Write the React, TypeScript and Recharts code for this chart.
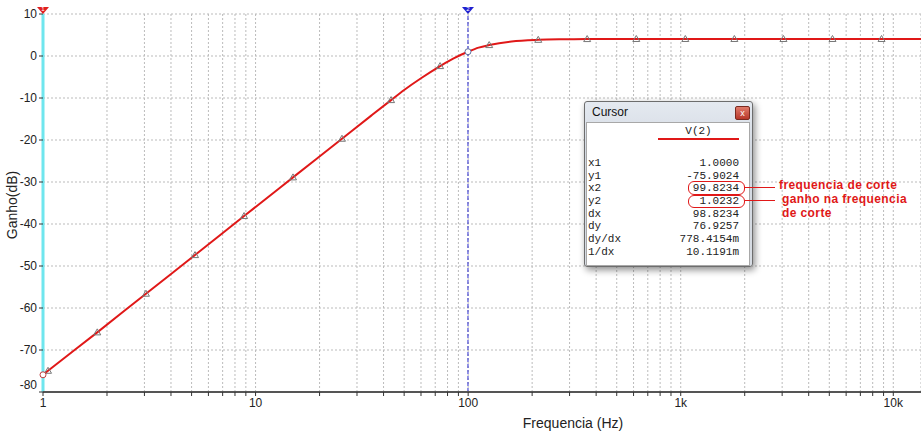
import React from "react";
import {
  ComposedChart,
  Line,
  Scatter,
  XAxis,
  YAxis,
  CartesianGrid,
  ReferenceLine,
  ReferenceDot,
} from "recharts";

// frequency response (Hz, dB)
const curveFreq = [1, 1.056, 1.8, 3.05, 5.19, 8.83, 15, 25.5, 35, 43.4, 50, 60, 73.8, 85, 99.8, 112, 125.6, 160, 213.7, 280, 363, 618, 1051, 13500];
const curveGain = [-75.9, -74.95, -65.8, -56.6, -47.4, -38.1, -28.9, -19.7, -14.2, -10.5, -8.1, -5.3, -2.4, -0.6, 1.02, 2.0, 2.6, 3.45, 3.85, 3.98, 4.03, 4.05, 4.05, 4.05];

// triangle markers along the trace
const markerFreq = [1.056, 1.8, 3.05, 5.19, 8.83, 15, 25.5, 43.4, 73.8, 125.6, 213.7, 363, 618, 1051, 1788, 3042, 5175, 8805];
const markerGain = [-74.95, -65.8, -56.6, -47.4, -38.1, -28.9, -19.7, -10.5, -2.4, 2.6, 3.85, 4.03, 4.05, 4.05, 4.05, 4.05, 4.05, 4.05];

const yTicks = [10, 0, -10, -20, -30, -40, -50, -60, -70, -80];
const decades = [1, 10, 100, 1000, 10000];
const decadeLabels = ["1", "10", "100", "1k", "10k"];
const xTicks = [1, 2, 3, 4, 5, 6, 7, 8, 9, 10, 20, 30, 40, 50, 60, 70, 80, 90, 100, 200, 300, 400, 500, 600, 700, 800, 900, 1000, 2000, 3000, 4000, 5000, 6000, 7000, 8000, 9000, 10000];

const cursor1 = { f: 1.0, g: -75.9024 };
const cursor2 = { f: 99.8234, g: 1.0232 };

const cursorRows = [
  ["x1", "1.0000"],
  ["y1", "-75.9024"],
  ["x2", "99.8234"],
  ["y2", "1.0232"],
  ["dx", "98.8234"],
  ["dy", "76.9257"],
  ["dy/dx", "778.4154m"],
  ["1/dx", "10.1191m"],
];

const curveData = curveFreq.map((f, i) => ({ f, g: curveGain[i] }));
const markerData = markerFreq.map((f, i) => ({ f, g: markerGain[i] }));

const FONT = "'Liberation Sans', Arial, sans-serif";
const RED = "#e01818";

function Triangle(props: any) {
  const { cx, cy } = props;
  return (
    <path
      d={`M${cx},${cy - 3.5} L${cx + 3.5},${cy + 2.5} L${cx - 3.5},${cy + 2.5} Z`}
      fill="none"
      stroke="#777"
      strokeWidth={1}
    />
  );
}

function CursorFlag(color: string, num: string) {
  return (props: any) => {
    const { cx, cy } = props;
    return (
      <g>
        <path d={`M${cx - 6},${cy - 7} L${cx + 6},${cy - 7} L${cx},${cy} Z`} fill={color} />
        <text x={cx} y={cy - 3} textAnchor="middle" fontSize={6} fill="#fff" fontFamily={FONT}>
          {num}
        </text>
      </g>
    );
  };
}

function YTick(props: any) {
  const { x, y, payload } = props;
  const shift = payload.value === -80 ? -7 : 0;
  return (
    <text x={x} y={y + shift} dy="0.35em" textAnchor="end" fontSize={12} fill="#222" fontFamily={FONT}>
      {payload.value}
    </text>
  );
}

function xLabel(v: number) {
  const i = decades.indexOf(v);
  return i >= 0 ? decadeLabels[i] : "";
}

function CursorWindow() {
  return (
    <div
      style={{
        position: "absolute",
        left: 584,
        top: 101,
        width: 167,
        height: 164,
        border: "1px solid #6d6d6d",
        background: "linear-gradient(#e4e9f0, #d3d9e2 30%, #d7dce3)",
        boxShadow: "2px 3px 7px rgba(0,0,0,0.45)",
        borderRadius: 3,
        fontFamily: FONT,
      }}
    >
      <div style={{ position: "absolute", left: 7, top: 3, fontSize: 12, color: "#111" }}>Cursor</div>
      <div
        style={{
          position: "absolute",
          left: 150,
          top: 4,
          width: 13,
          height: 12,
          background: "linear-gradient(#e07a6a, #b8382a)",
          border: "1px solid #7a2a20",
          borderRadius: 2,
          color: "#fff",
          fontSize: 9,
          lineHeight: "12px",
          textAlign: "center",
        }}
      >
        x
      </div>
      <div
        style={{
          position: "absolute",
          left: 1,
          top: 20,
          width: 162,
          height: 142,
          background: "#fff",
          border: "1px solid #a8a8a8",
          fontFamily: "'Liberation Mono', 'Courier New', monospace",
          fontSize: 11,
          color: "#222",
        }}
      >
        <div style={{ position: "absolute", left: 71, width: 81, top: 2, textAlign: "center" }}>V(2)</div>
        <div style={{ position: "absolute", left: 71, width: 81, top: 15, height: 2, background: RED }} />
        {cursorRows.map(([k, v], i) => (
          <div
            key={k}
            style={{
              position: "absolute",
              left: 1,
              right: 10,
              top: 34 + i * 12.67,
              height: 13,
              lineHeight: "13px",
              display: "flex",
              justifyContent: "space-between",
            }}
          >
            <span>{k}</span>
            <span>{v}</span>
          </div>
        ))}
      </div>
    </div>
  );
}

function Annotations() {
  const box = (top: number, height: number) => ({
    position: "absolute" as const,
    left: 688,
    top,
    width: 55,
    height,
    border: `1px solid ${RED}`,
    borderRadius: 6,
  });
  const rule = (top: number) => ({
    position: "absolute" as const,
    left: 745,
    top,
    width: 30,
    height: 1,
    background: RED,
  });
  const label = (left: number, top: number) => ({
    position: "absolute" as const,
    left,
    top,
    fontFamily: FONT,
    fontSize: 12,
    lineHeight: "12px",
    letterSpacing: 0.4,
    fontWeight: "bold" as const,
    color: RED,
    whiteSpace: "nowrap" as const,
  });
  return (
    <>
      <div style={box(181, 12)} />
      <div style={box(195, 11)} />
      <div style={rule(187)} />
      <div style={rule(200)} />
      <div style={label(779, 179)}>frequencia de corte</div>
      <div style={label(782, 193)}>ganho na frequencia</div>
      <div style={label(782, 207)}>de corte</div>
    </>
  );
}

export default function App() {
  return (
    <div style={{ position: "absolute", left: 0, top: 0, width: 921, height: 436, background: "#fff" }}>
      <ComposedChart width={921} height={436} margin={{ top: 14, right: 0, bottom: 0, left: 0 }}>
        <CartesianGrid stroke="#bbbbbb" strokeDasharray="2 2" />
        <XAxis
          dataKey="f"
          type="number"
          scale="log"
          domain={[1, 13500]}
          allowDataOverflow
          ticks={xTicks}
          tickFormatter={xLabel}
          interval={0}
          height={44}
          tickSize={4}
          tickMargin={2}
          axisLine={{ stroke: "#555", strokeWidth: 2 }}
          tickLine={{ stroke: "#333" }}
          tick={{ fontSize: 12, fill: "#222", fontFamily: FONT }}
          label={{
            content: () => (
              <text x={573} y={428} textAnchor="middle" fontSize={14} fill="#222" fontFamily={FONT}>
                Frequencia (Hz)
              </text>
            ),
          }}
        />
        <YAxis
          dataKey="g"
          type="number"
          domain={[-80, 10]}
          ticks={yTicks}
          interval={0}
          width={43}
          tickSize={4}
          tickMargin={2}
          axisLine={false}
          tickLine={{ stroke: "#333" }}
          tick={<YTick />}
          label={{
            content: () => (
              <text
                x={17}
                y={205}
                transform="rotate(-90 17 205)"
                textAnchor="middle"
                fontSize={14}
                fill="#222"
                fontFamily={FONT}
              >
                Ganho(dB)
              </text>
            ),
          }}
        />
        <ReferenceLine x={cursor1.f} stroke="#6fe6ee" strokeWidth={3} ifOverflow="visible" />
        <ReferenceLine x={cursor2.f} stroke="#2a2ad0" strokeWidth={1} strokeDasharray="4 2" />
        <Line
          data={curveData}
          dataKey="g"
          type="monotone"
          stroke={RED}
          strokeWidth={2}
          dot={false}
          isAnimationActive={false}
        />
        <Scatter data={markerData} dataKey="g" shape={<Triangle />} isAnimationActive={false} />
        <ReferenceDot x={cursor1.f} y={cursor1.g} r={3} fill="#fff" stroke="#c04040" ifOverflow="visible" />
        <ReferenceDot x={cursor2.f} y={cursor2.g} r={3} fill="#fff" stroke="#6070a0" />
        <ReferenceDot x={cursor1.f} y={10} ifOverflow="visible" shape={CursorFlag("#e02020", "1")} />
        <ReferenceDot x={cursor2.f} y={10} ifOverflow="visible" shape={CursorFlag("#2020d0", "2")} />
      </ComposedChart>
      <CursorWindow />
      <Annotations />
    </div>
  );
}
